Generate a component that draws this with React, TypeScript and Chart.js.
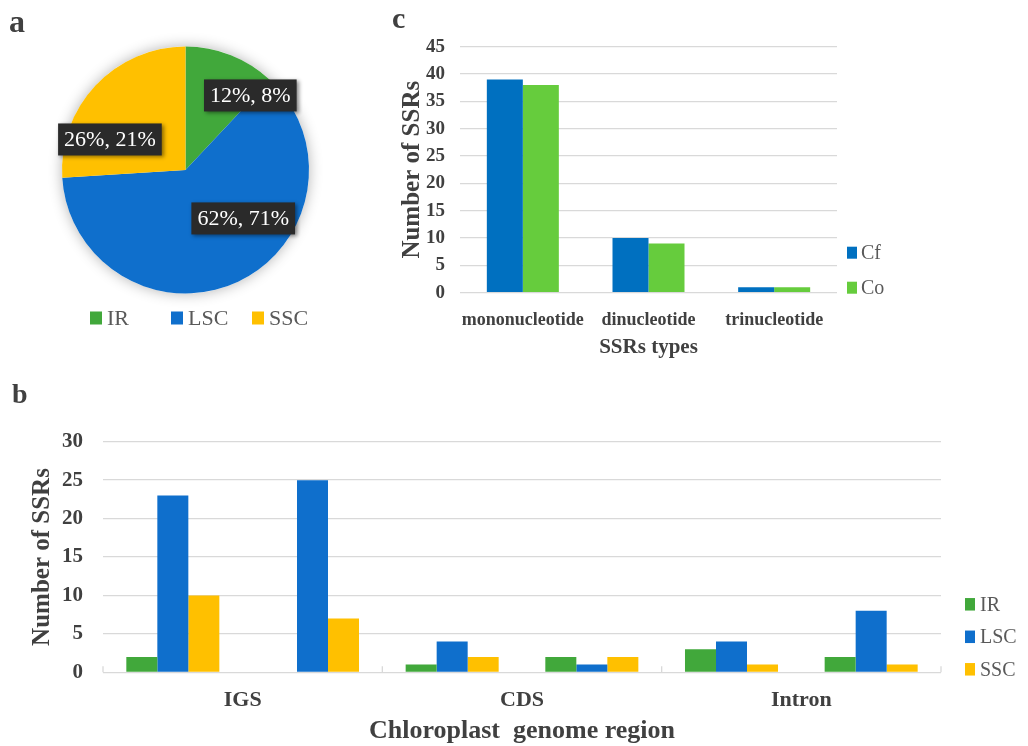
import React, { useEffect, useRef } from 'react';
import { Chart, registerables } from 'chart.js';

Chart.register(...registerables);

// ---------- data ----------
// Panel a: share of SSRs per chloroplast region (Cf %, Co %)
const pieRegions = ['IR', 'LSC', 'SSC'];
const pieCfPercent = [12, 62, 26];
const pieCoPercent = [8, 71, 21];

// Panel c: SSR types
const ssrTypes = ['mononucleotide', 'dinucleotide', 'trinucleotide'];
const speciesNames = ['Cf', 'Co'];
const cfTypeCounts = [39, 10, 1];
const coTypeCounts = [38, 9, 1];
const cTickMax = 45;
const cTickStep = 5;

// Panel b: SSRs per genome region, two bar groups (Cf, Co) per region
const genomeRegions = ['IGS', 'CDS', 'Intron'];
const irCounts = [2, 0, 1, 2, 3, 2];
const lscCounts = [23, 25, 4, 1, 4, 8];
const sscCounts = [10, 7, 2, 2, 1, 1];
const bTickMax = 30;
const bTickStep = 5;

// ---------- styles ----------
const FONT = '"Liberation Serif", "Times New Roman", serif';
const TEXT = '#404040';
const LEGEND_TEXT = '#595959';
const GRID = '#d9d9d9';
const IR_COLOR = '#41A83B';
const LSC_COLOR = '#0F6FCC';
const SSC_COLOR = '#FFC000';
const CF_COLOR = '#0070C0';
const CO_COLOR = '#66CC3D';

// ---------- plugins ----------
const boxLegend = {
  id: 'boxLegend',
  afterDraw(chart: any, _args: any, opts: any) {
    if (!opts || !opts.display) return;
    const { ctx, chartArea } = chart;
    let items: { text: string; color: string }[];
    if (chart.config.type === 'pie') {
      const ds = chart.data.datasets[0];
      items = chart.data.labels.map((l: string, i: number) => ({ text: l, color: ds.backgroundColor[i] }));
    } else {
      items = chart.data.datasets.map((d: any) => ({ text: d.label, color: d.backgroundColor }));
    }
    ctx.save();
    ctx.font = `${opts.fontSize}px ${FONT}`;
    ctx.textBaseline = 'middle';
    ctx.textAlign = 'left';
    const n = items.length;
    items.forEach((it, i) => {
      let bx: number, cy: number;
      if (opts.mode === 'horizontal') {
        bx = chartArea.left + opts.dx + i * opts.step;
        cy = chartArea.bottom + opts.dy;
      } else {
        bx = chartArea.right + opts.dx;
        cy = chartArea.bottom - opts.dy - (n - 1 - i) * opts.step;
      }
      ctx.fillStyle = it.color;
      ctx.fillRect(bx, cy - opts.boxH / 2, opts.boxW, opts.boxH);
      ctx.fillStyle = LEGEND_TEXT;
      ctx.fillText(it.text, bx + opts.boxW + opts.gap, cy + 1);
    });
    ctx.restore();
  },
};

const pieShadow = {
  id: 'pieShadow',
  beforeDatasetsDraw(chart: any) {
    const arc = chart.getDatasetMeta(0).data[0];
    if (!arc) return;
    const { ctx } = chart;
    ctx.save();
    ctx.shadowColor = 'rgba(0,0,0,0.3)';
    ctx.shadowBlur = 14;
    ctx.beginPath();
    ctx.arc(arc.x, arc.y, arc.outerRadius, 0, Math.PI * 2);
    ctx.fillStyle = '#ffffff';
    ctx.fill();
    ctx.restore();
  },
};

const pieLabels = {
  id: 'pieLabels',
  afterDatasetsDraw(chart: any, _args: any, opts: any) {
    if (!opts || !opts.display) return;
    const { ctx } = chart;
    const arcs = chart.getDatasetMeta(0).data;
    ctx.save();
    ctx.font = `${opts.fontSize}px ${FONT}`;
    ctx.textAlign = 'center';
    ctx.textBaseline = 'middle';
    arcs.forEach((arc: any, i: number) => {
      const p = opts.placements[i];
      const a = (p.angle * Math.PI) / 180;
      const r = p.r * arc.outerRadius;
      const cx = arc.x + r * Math.sin(a);
      const cy = arc.y - r * Math.cos(a);
      const text = opts.texts[i];
      const w = ctx.measureText(text).width + opts.padX * 2;
      const h = opts.boxH;
      ctx.save();
      ctx.shadowColor = 'rgba(0,0,0,0.45)';
      ctx.shadowBlur = 4;
      ctx.shadowOffsetX = 2;
      ctx.shadowOffsetY = 2;
      ctx.fillStyle = '#2a2a2a';
      ctx.fillRect(cx - w / 2, cy - h / 2, w, h);
      ctx.restore();
      ctx.fillStyle = '#ffffff';
      ctx.fillText(text, cx, cy + 1);
    });
    ctx.restore();
  },
};

const groupTicks = {
  id: 'groupTicks',
  afterDatasetsDraw(chart: any, _args: any, opts: any) {
    if (!opts || !opts.display) return;
    const { ctx } = chart;
    const xs = chart.scales.x;
    const ys = chart.scales.y;
    const y0 = ys.getPixelForValue(0);
    const n = chart.data.labels.length;
    ctx.save();
    ctx.strokeStyle = GRID;
    ctx.lineWidth = 1.3;
    for (let b = 0; b <= n; b += opts.groupSize) {
      const px = xs.getPixelForValue(b - 0.5);
      ctx.beginPath();
      ctx.moveTo(px, y0);
      ctx.lineTo(px, y0 - opts.length);
      ctx.stroke();
    }
    ctx.restore();
  },
};

const font = (size: number, bold = true) => ({ family: FONT, size, weight: bold ? 'bold' : 'normal' });

export default function App() {
  const aRef = useRef<HTMLCanvasElement>(null);
  const bRef = useRef<HTMLCanvasElement>(null);
  const cRef = useRef<HTMLCanvasElement>(null);

  useEffect(() => {
    const charts: Chart[] = [];

    // ---- panel a: pie ----
    charts.push(
      new Chart(aRef.current as HTMLCanvasElement, {
        type: 'pie',
        data: {
          labels: pieRegions,
          datasets: [
            {
              data: pieCfPercent,
              backgroundColor: [IR_COLOR, LSC_COLOR, SSC_COLOR],
              borderWidth: 0,
            },
          ],
        },
        options: {
          responsive: false,
          animation: false,
          layout: { padding: { left: 62, top: 46.5, right: 61, bottom: 46.5 } },
          plugins: {
            legend: { display: false },
            tooltip: { enabled: false },
            pieLabels: {
              display: true,
              fontSize: 22,
              padX: 6,
              boxH: 32,
              texts: pieRegions.map((_, i) => `${pieCfPercent[i]}%, ${pieCoPercent[i]}%`),
              placements: [
                { angle: 41, r: 0.8 },
                { angle: 130, r: 0.61 },
                { angle: 292, r: 0.66 },
              ],
            },
            boxLegend: {
              display: true,
              mode: 'horizontal',
              dx: 28,
              dy: 24.5,
              step: 81,
              boxW: 12,
              boxH: 13,
              gap: 5,
              fontSize: 22,
            },
          } as any,
        },
        plugins: [pieShadow, pieLabels, boxLegend],
      } as any)
    );

    // ---- panel c: SSR types ----
    charts.push(
      new Chart(cRef.current as HTMLCanvasElement, {
        type: 'bar',
        data: {
          labels: ssrTypes,
          datasets: [
            { label: speciesNames[0], data: cfTypeCounts, backgroundColor: CF_COLOR, categoryPercentage: 0.573, barPercentage: 1 },
            { label: speciesNames[1], data: coTypeCounts, backgroundColor: CO_COLOR, categoryPercentage: 0.573, barPercentage: 1 },
          ],
        },
        options: {
          responsive: false,
          animation: false,
          layout: { padding: { left: 0, top: 46.7, right: 191, bottom: 17.3 } },
          plugins: {
            legend: { display: false },
            tooltip: { enabled: false },
            boxLegend: {
              display: true,
              mode: 'vertical',
              dx: 10,
              dy: 5,
              step: 35,
              boxW: 10,
              boxH: 12,
              gap: 4,
              fontSize: 20,
            },
          } as any,
          scales: {
            x: {
              grid: { display: false, drawTicks: false },
              border: { display: false },
              ticks: { font: font(18), color: TEXT, padding: 16.5, maxRotation: 0, autoSkip: false },
              title: { display: true, text: 'SSRs types', font: font(21), color: TEXT, padding: { top: 0, bottom: 3 } },
              afterFit: (s: any) => {
                s.height = 70;
              },
            },
            y: {
              min: 0,
              max: cTickMax,
              ticks: { stepSize: cTickStep, font: font(19), color: TEXT, padding: 15 },
              grid: { color: GRID, lineWidth: 1.3, drawTicks: false },
              border: { display: false },
              title: { display: true, text: 'Number of SSRs', font: font(25), color: TEXT, padding: { top: 18, bottom: 0 } },
              afterFit: (s: any) => {
                s.width = 80;
              },
            },
          } as any,
        },
        plugins: [boxLegend],
      } as any)
    );

    // ---- panel b: genome regions ----
    const subLabels = genomeRegions.flatMap((r) => speciesNames.map((s) => `${r} ${s}`));
    charts.push(
      new Chart(bRef.current as HTMLCanvasElement, {
        type: 'bar',
        data: {
          labels: subLabels,
          datasets: [
            { label: 'IR', data: irCounts, backgroundColor: IR_COLOR, categoryPercentage: 0.666, barPercentage: 1 },
            { label: 'LSC', data: lscCounts, backgroundColor: LSC_COLOR, categoryPercentage: 0.666, barPercentage: 1 },
            { label: 'SSC', data: sscCounts, backgroundColor: SSC_COLOR, categoryPercentage: 0.666, barPercentage: 1 },
          ],
        },
        options: {
          responsive: false,
          animation: false,
          layout: { padding: { left: 0, top: 61.7, right: 87, bottom: 0 } },
          plugins: {
            legend: { display: false },
            tooltip: { enabled: false },
            groupTicks: { display: true, groupSize: speciesNames.length, length: 6 },
            boxLegend: {
              display: true,
              mode: 'vertical',
              dx: 24,
              dy: 3,
              step: 32.5,
              boxW: 10,
              boxH: 12.5,
              gap: 5,
              fontSize: 20,
            },
          } as any,
          scales: {
            x: { display: false, offset: true },
            x2: {
              type: 'category',
              position: 'bottom',
              labels: genomeRegions,
              offset: true,
              grid: { display: false, drawTicks: false },
              border: { display: false },
              ticks: { font: font(22), color: TEXT, padding: 14.5, maxRotation: 0, autoSkip: false },
              title: {
                display: true,
                text: 'Chloroplast  genome region',
                font: { ...font(26), lineHeight: 1 },
                color: TEXT,
                padding: { top: 0, bottom: 1.3 },
              },
              afterFit: (s: any) => {
                s.height = 73.7;
              },
            },
            y: {
              min: 0,
              max: bTickMax,
              ticks: { stepSize: bTickStep, font: font(21), color: TEXT, padding: 20 },
              grid: { color: GRID, lineWidth: 1.3, drawTicks: false },
              border: { display: false },
              title: { display: true, text: 'Number of SSRs', font: font(25), color: TEXT, padding: { top: 28, bottom: 0 } },
              afterFit: (s: any) => {
                s.width = 103;
              },
            },
          } as any,
        },
        plugins: [groupTicks, boxLegend],
      } as any)
    );

    return () => {
      charts.forEach((c) => c.destroy());
    };
  }, []);

  const letter = (text: string, left: number, top: number, size: number) => (
    <div
      style={{
        position: 'absolute',
        left,
        top,
        fontFamily: FONT,
        fontWeight: 'bold',
        fontSize: size,
        lineHeight: 1,
        color: TEXT,
      }}
    >
      {text}
    </div>
  );

  return (
    <div
      style={{
        position: 'absolute',
        left: 0,
        top: 0,
        width: 1028,
        height: 746,
        background: '#ffffff',
        overflow: 'hidden',
      }}
    >
      <canvas ref={aRef} width={370} height={340} style={{ position: 'absolute', left: 0, top: 0 }} />
      <canvas ref={cRef} width={648} height={380} style={{ position: 'absolute', left: 380, top: 0 }} />
      <canvas ref={bRef} width={1028} height={366} style={{ position: 'absolute', left: 0, top: 380 }} />
      {letter('a', 9, 5, 32)}
      {letter('c', 392, 3, 30)}
      {letter('b', 12, 380, 28)}
    </div>
  );
}
